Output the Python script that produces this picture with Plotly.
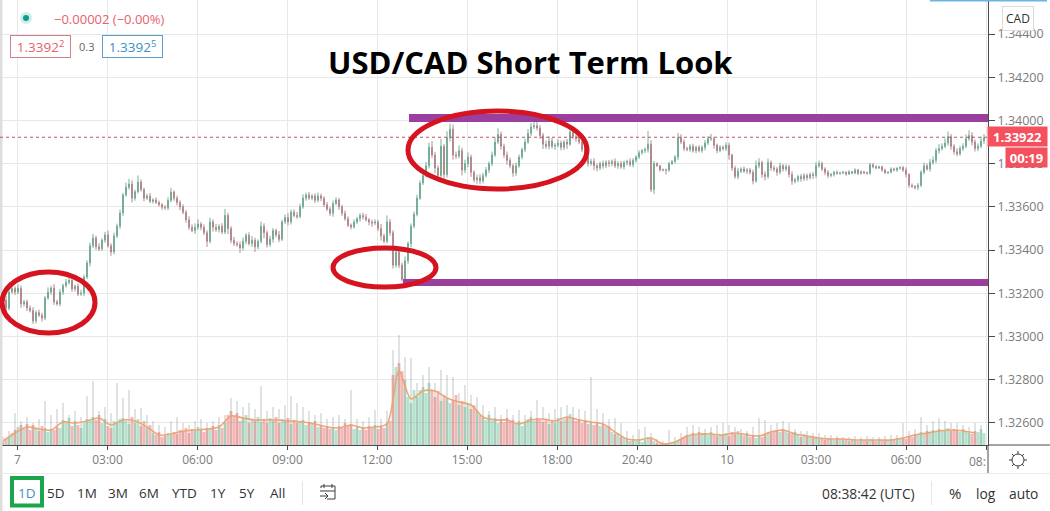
import plotly.graph_objects as go

W, H = 1050, 511
PLOT_R, PLOT_B = 988, 445

# ---------- chart data ----------
# closes in 1/100000 above 1.33000, one value per six-minute step
closes = [
 168,130,205,222,205,222,150,160,131,120,
 72,110,98,85,178,205,224,160,150,205,
 235,250,260,220,232,196,200,275,340,420,
 456,415,405,445,470,420,391,465,510,571,
 655,690,705,640,670,715,680,640,650,625,
 632,620,610,598,595,630,668,640,620,600,
 575,540,505,490,505,520,505,480,440,530,
 505,495,510,483,560,500,445,430,425,410,
 440,468,430,445,415,440,510,480,425,450,
 490,470,450,530,550,530,575,560,555,600,
 640,655,640,650,630,650,640,610,590,570,
 615,632,600,570,545,515,507,530,545,560,
 553,540,530,525,530,500,465,440,530,480,
 330,390,330,265,350,430,510,565,640,710,
 745,790,875,840,780,745,880,750,920,960,
 840,835,860,770,800,830,760,725,735,720,
 745,770,800,840,900,935,880,840,815,790,
 757,790,830,865,900,940,970,975,965,930,
 890,880,905,880,885,895,875,900,890,945,
 925,915,900,865,830,800,810,790,780,800,
 790,805,800,810,790,800,785,805,810,795,
 815,830,850,860,865,890,680,800,790,770,
 772,770,800,810,830,920,900,870,865,880,
 860,875,860,875,895,915,915,885,860,875,
 870,885,840,780,740,765,775,765,770,760,
 720,790,805,750,740,805,780,775,760,790,
 775,785,750,718,725,740,730,745,735,750,
 745,790,800,775,760,745,750,760,755,757,
 760,752,762,756,770,755,762,758,755,795,
 785,780,785,770,758,760,775,770,778,782,
 770,750,700,695,690,700,760,790,775,805,
 815,860,870,880,895,925,880,855,845,870,
 880,915,930,900,870,880,905,919,
]
wick_up = [
 12,20,8,15,10,18,14,9,11,13,
 16,10,14,12,9,22,11,18,10,14,
 9,16,12,20,8,13,15,10,12,14,
 18,10,16,9,14,20,11,15,12,16,
 10,22,25,18,9,30,12,8,10,14,
 8,12,9,7,10,14,20,8,12,10,
 12,9,16,14,18,22,10,13,11,20,
 12,16,9,14,30,12,10,16,11,14,
 18,10,14,20,12,9,22,14,10,16,
 12,9,18,10,14,20,11,13,16,15,
 18,10,14,9,12,16,11,9,12,10,
 14,12,9,10,13,11,8,12,9,10,
 12,14,8,10,12,9,20,11,30,14,
 12,15,14,12,20,10,13,14,16,12,
 15,18,22,30,14,12,35,10,30,25,
 20,16,24,14,18,22,12,9,14,16,
 12,14,10,16,22,28,14,12,16,12,
 10,14,12,9,16,20,18,24,20,14,
 12,16,22,14,10,18,12,9,14,22,
 12,10,9,16,10,14,12,15,10,9,
 14,10,12,9,14,10,12,9,8,14,
 10,9,12,8,10,60,18,12,6,4,
 5,4,8,6,10,22,16,12,8,10,
 12,8,10,9,14,12,22,9,8,10,
 9,14,12,6,10,14,8,12,9,10,
 12,24,20,8,14,18,9,12,10,14,
 8,12,9,14,10,8,12,10,9,8,
 12,16,14,9,8,10,7,6,8,5,
 6,5,7,4,8,5,6,4,5,8,
 7,8,5,6,7,5,8,6,5,6,
 8,12,6,8,5,10,9,14,10,16,
 18,12,20,14,22,24,12,10,16,12,
 14,20,24,16,12,14,20,18,
]
wick_dn = [
 10,24,10,8,14,9,18,12,14,9,
 14,12,8,16,10,9,12,14,8,11,
 13,9,10,14,12,9,8,14,10,16,
 12,14,10,8,12,9,18,11,10,12,
 14,9,10,20,12,8,10,14,9,8,
 10,7,9,12,8,10,9,12,14,16,
 9,14,12,8,16,12,14,10,26,9,
 20,11,14,10,9,26,14,12,10,24,
 12,14,10,16,24,12,9,26,14,10,
 16,12,14,9,10,16,12,9,11,8,
 9,12,8,10,12,9,14,11,10,12,
 16,8,14,12,10,9,12,8,10,14,
 12,9,16,18,10,12,22,9,10,14,
 16,12,14,10,12,14,18,10,9,8,
 9,10,12,14,25,16,12,30,14,18,
 22,14,10,25,14,16,22,12,18,16,
 12,10,14,12,9,10,16,14,20,12,
 18,14,9,10,12,8,14,10,12,16,
 22,12,14,10,16,9,14,12,22,8,
 12,14,10,12,16,14,10,20,16,10,
 14,10,16,12,10,14,9,12,14,10,
 12,10,9,8,12,14,12,20,5,6,
 6,20,8,6,9,14,10,12,8,10,
 9,12,8,10,14,9,10,16,12,8,
 10,12,22,14,10,12,9,8,14,10,
 16,9,12,16,18,10,14,12,16,9,
 12,10,14,16,10,12,14,10,14,9,
 16,12,9,10,14,12,8,10,6,7,
 6,8,5,6,5,8,6,7,5,6,
 7,6,5,8,6,7,5,6,8,6,
 9,14,12,8,10,12,9,10,8,12,
 10,12,14,10,9,12,16,14,10,8,
 12,9,10,16,14,12,9,14,
]
# volume: dense bars
volumes = [
 3,6,8,12,15,18,20,16,21,15,
 20,16,14,19,17,13,16,15,18,17,
 25,22,27,19,24,20,17,22,26,24,
 28,25,30,22,26,19,17,24,22,26,
 27,24,21,28,22,26,19,24,17,20,
 12,10,13,8,9,12,10,13,11,15,
 14,17,12,16,14,18,15,13,17,16,
 19,15,20,17,22,30,34,28,32,24,
 27,30,22,26,24,28,23,26,22,27,
 24,28,22,26,24,27,21,25,22,24,
 25,20,23,21,24,18,20,17,19,16,
 18,15,19,17,22,19,21,16,18,15,
 18,15,19,17,20,16,19,17,22,24,
 70,78,82,74,65,48,42,55,48,55,
 58,52,62,55,48,54,44,50,46,42,
 45,50,40,44,38,42,36,40,34,30,
 28,25,30,24,27,22,26,23,27,24,
 25,21,24,19,23,26,28,24,27,25,
 23,26,21,25,22,27,24,26,28,31,
 27,24,26,22,25,21,23,20,22,19,
 21,18,19,13,11,12,8,7,6,4,
 5,4,6,3,5,8,6,4,2,1,
 1,2,1,2,3,4,6,8,10,9,
 12,10,13,11,12,10,13,11,9,11,
 10,12,9,13,11,14,10,9,12,8,
 9,7,10,8,11,13,12,14,15,13,
 16,14,12,11,13,10,8,11,9,8,
 7,8,6,7,5,7,6,5,7,6,
 5,6,4,6,5,4,6,5,4,6,
 5,4,6,5,4,5,6,5,7,6,
 7,6,9,8,11,10,13,12,14,13,
 15,13,16,14,15,17,14,16,15,13,
 16,14,12,11,14,13,16,12,
]
# taller thin volume spikes, one every twelve minutes
spikes = [
 8,14,32,24,28,22,26,44,30,36,42,30,34,28,49,64,34,38,32,62,
 47,55,36,37,30,24,20,18,24,28,22,20,24,26,22,24,28,30,47,44,
 38,42,36,59,34,38,36,40,49,42,38,34,30,32,26,28,30,26,55,26,
 24,28,35,26,34,95,110,88,87,62,70,78,62,75,70,68,52,60,50,48,
 40,34,38,30,36,30,35,30,34,45,38,32,36,38,40,38,36,34,68,36,
 32,26,27,22,14,10,16,18,12,6,4,15,8,12,18,20,18,16,18,20,
 22,20,18,16,14,18,27,25,20,22,24,22,16,14,14,12,12,10,10,9,
 8,8,9,8,9,8,8,9,10,10,22,14,16,28,20,24,27,24,22,22,20,18,22,20,
]
# volume moving average, one value every twenty-four minutes
volume_ma = [
 4,12,18,16,15,23,22,24,27,20,25,24,18,10,11,14,15,16,18,29,
 27,25,25,25,24,23,21,18,17,20,17,18,21,74,46,54,54,47,43,40,
 28,25,25,21,25,26,24,28,25,23,21,13,6,5,7,1,3,9,11,11,
 10,12,10,9,13,15,11,9,7,6,6,5,5,5,5,7,10,12,14,15,14,12,
]
tick_minutes = [0, 180, 360, 540, 719, 899, 1079, 1239, 1419, 1597, 1777, 1938]
tick_labels = ["7", "03:00", "06:00", "09:00", "12:00", "15:00", "18:00", "20:40", "10", "03:00", "06:00", " "]
price_ticks = [1.344, 1.342, 1.340, 1.338, 1.336, 1.334, 1.332, 1.330, 1.328, 1.326]
last_price = 1.33922
resistance = 1.34011
support = 1.33250

# ---------- derived series ----------
base = 1.33
STEP = 6
START = -29
xs = [START + STEP * i for i in range(len(closes))]
c = [base + v / 1e5 for v in closes]
o = [c[0]] + c[:-1]
hi = [max(a, b) + u / 1e5 for a, b, u in zip(o, c, wick_up)]
lo = [min(a, b) - d / 1e5 for a, b, d in zip(o, c, wick_dn)]
vol_colors = ["rgba(83,185,135,0.42)" if b >= a else "rgba(235,100,95,0.46)" for a, b in zip(o, c)]
spike_x = [START + 2 * STEP * i for i in range(len(spikes))]
ma_x = [START + 4 * STEP * i for i in range(len(volume_ma))]

FONT = "Open Sans"
GRAY = "#7b7b7b"
DARK = "#4a4a4a"
RED = "#e8606c"
BLUE = "#3f8fc4"


def px(x):
    return x / W


def py(y):
    return 1 - y / H


fig = go.Figure()
fig.add_trace(go.Bar(x=xs, y=volumes, yaxis="y2", marker=dict(color=vol_colors, line_width=0),
                     width=STEP * 0.95, hoverinfo="skip"))
fig.add_trace(go.Bar(x=spike_x, y=spikes, yaxis="y2", marker=dict(color="rgba(125,140,140,0.6)", line_width=0),
                     width=1.6, hoverinfo="skip"))
fig.add_trace(go.Scatter(x=ma_x, y=volume_ma, yaxis="y2", mode="lines",
                         line=dict(color="rgba(240,160,110,0.95)", width=1.6, shape="spline", smoothing=0.8),
                         hoverinfo="skip"))
fig.add_trace(go.Candlestick(x=xs, open=o, high=hi, low=lo, close=c, whiskerwidth=0,
                             increasing=dict(line=dict(color="#6aa58c", width=0.9), fillcolor="#6aa58c"),
                             decreasing=dict(line=dict(color="#a98085", width=0.9), fillcolor="#c9707a"),
                             hoverinfo="skip"))

shapes = []


def sh(kind, x0, y0, x1, y1, **kw):
    shapes.append(dict(type=kind, xref="paper", yref="paper", x0=px(x0), x1=px(x1), y0=py(y0), y1=py(y1), **kw))


# frame and chrome
sh("rect", 0, 0, 2.5, H, fillcolor="#dedede", line_width=0)
sh("rect", 0, 473, W, 473.8, fillcolor="#e4e4e4", line_width=0)
sh("rect", 930, 0, 1047, 1.5, fillcolor="#6cb4e4", line_width=0)
sh("line", PLOT_R, PLOT_B, W, PLOT_B, line=dict(color=DARK, width=1))
sh("line", PLOT_R, PLOT_B, PLOT_R, 473, line=dict(color=DARK, width=1))
sh("rect", 302, 481, 302.8, 505, fillcolor="#e0e0e0", line_width=0)
sh("rect", 931, 481, 931.8, 505, fillcolor="#e0e0e0", line_width=0)
sh("rect", 12, 478, 42, 505.5, line=dict(color="#1ca64c", width=4), fillcolor="rgba(0,0,0,0)")

# price line and drawn levels (data coordinates)
shapes.append(dict(type="line", xref="x", yref="y", x0=-35, x1=1941, y0=last_price, y1=last_price,
                   line=dict(color="#c8505a", width=1, dash="dot")))
shapes.append(dict(type="line", xref="x", yref="y", x0=783, x1=1941, y0=resistance, y1=resistance,
                   line=dict(color="#9b3f9f", width=8)))
shapes.append(dict(type="line", xref="x", yref="y", x0=771, x1=1941, y0=support, y1=support,
                   line=dict(color="#9b3f9f", width=7)))

# drawn ellipses
for (x0, y0, x1, y1) in [(2, 272, 95, 333), (333, 248, 436, 287), (408, 111, 587, 189)]:
    sh("circle", x0, y0, x1, y1, line=dict(color="#d5141f", width=5))

# legend dot
sh("circle", 20, 12, 32, 24, fillcolor="#cdeeea", line_width=0)
sh("circle", 23, 15, 29, 21, fillcolor="#0f9a8a", line_width=0)


def path_shape(points, color="#3c3c3c", width=1):
    d = "M " + " L ".join(f"{px(x):.5f},{py(y):.5f}" for x, y in points)
    shapes.append(dict(type="path", xref="paper", yref="paper", path=d, line=dict(color=color, width=width)))


# sun icon
sh("circle", 1012, 454, 1024, 466, line=dict(color="#3c3c3c", width=1))
for a, b in [((1018, 451), (1018, 454)), ((1018, 466), (1018, 469)), ((1009, 460), (1012, 460)),
             ((1024, 460), (1027, 460)), ((1012, 454), (1014, 456)), ((1024, 454), (1022, 456)),
             ((1012, 466), (1014, 464)), ((1024, 466), (1022, 464))]:
    path_shape([a, b])

# calendar icon
path_shape([(321, 488), (321, 486), (335, 486), (335, 499), (327, 499)])
path_shape([(320, 491), (335, 491)])
path_shape([(324, 484), (324, 488)])
path_shape([(332, 484), (332, 488)])
path_shape([(320, 496), (328, 496)])
path_shape([(325, 493), (328, 496), (325, 499)])

ann = []


def text(x, y, s, size=12, color=GRAY, anchor="center", **kw):
    ann.append(dict(xref="paper", yref="paper", x=px(x), y=py(y), text=s, showarrow=False,
                    xanchor=anchor, yanchor="middle", font=dict(family=kw.pop("family", FONT), size=size, color=color), **kw))


text(530, 62, "<b>USD/CAD Short Term Look</b>", size=31, color="#000000")
text(52, 19, "\u22120.00002 (\u22120.00%)", size=13, color=RED, anchor="left")
text(40.5, 46, "1.3392<sup>2</sup>", size=13.5, color=RED, bordercolor="#d0808a", borderwidth=1, bgcolor="#ffffff",
     width=59, height=21, borderpad=0)
text(86, 46, "0.3", size=11, color="#666666")
text(132, 46, "1.3392<sup>5</sup>", size=13.5, color=BLUE, bordercolor="#5aa0cc", borderwidth=1, bgcolor="#ffffff",
     width=59, height=21, borderpad=0)
text(1018, 18, "CAD", size=12, color="#333333", bordercolor="#dcdcdc", borderpad=3, bgcolor="#ffffff", borderwidth=1)
text(1017.5, 136.5, "<b>1.33922</b>", size=13, color="#ffffff", bgcolor="#f4505e", width=59, height=19, borderpad=0)
text(1026.5, 157.5, "<b>00:19</b>", size=13, color="#ffffff", bgcolor="#f4505e", width=41, height=19, borderpad=0)
text(988, 461, "08:", size=12, color=GRAY, anchor="right")

text(27, 493, "1D", size=13.5, color="#4a8fc4")
for label, x in [("5D", 56), ("1M", 87), ("3M", 118), ("6M", 149), ("YTD", 184), ("1Y", 218), ("5Y", 247), ("All", 277)]:
    text(x, 493, label, size=13.5, color="#333333")
text(868, 493, "08:38:42 (UTC)", size=13.8, color="#333333")
text(955, 493, "%", size=15, color="#333333")
text(986, 493, "log", size=13.8, color="#333333")
text(1023, 493, "auto", size=13.8, color="#333333")

fig.update_layout(
    width=W, height=H, margin=dict(l=0, r=0, t=0, b=0, pad=0), autosize=False,
    paper_bgcolor="#ffffff", plot_bgcolor="#ffffff", showlegend=False, barmode="overlay", boxgap=0.6,
    font=dict(family=FONT, size=12, color=GRAY),
    xaxis=dict(domain=[0, PLOT_R / W], range=[-35, 1941], tickmode="array", tickvals=tick_minutes, ticktext=tick_labels,
               showgrid=True, gridcolor="#e6e8ea", gridwidth=1, zeroline=False, showline=True, linecolor=DARK, linewidth=1,
               ticks="outside", ticklen=4, tickcolor=DARK, tickfont=dict(size=12, color=GRAY, family=FONT),
               rangeslider=dict(visible=False)),
    yaxis=dict(domain=[1 - PLOT_B / H, 1], range=[1.344 - (PLOT_B - 34) / 43.2 * 0.002, 1.344 + 34 / 43.2 * 0.002],
               side="right", tickmode="array", tickvals=price_ticks, ticktext=[f"{p:.5f}" for p in price_ticks],
               showgrid=True, gridcolor="#e6e8ea", gridwidth=1, zeroline=False, showline=True, linecolor=DARK, linewidth=1,
               ticks="outside", ticklen=6, tickcolor=DARK, tickfont=dict(size=12.5, color=GRAY, family=FONT)),
    yaxis2=dict(domain=[1 - PLOT_B / H, 1], range=[0, PLOT_B], overlaying="y", visible=False),
    shapes=shapes, annotations=ann,
)

fig.write_html("out.html", config=dict(displayModeBar=False),
               post_script="document.body.style.margin='0';document.body.style.overflow='hidden';")
